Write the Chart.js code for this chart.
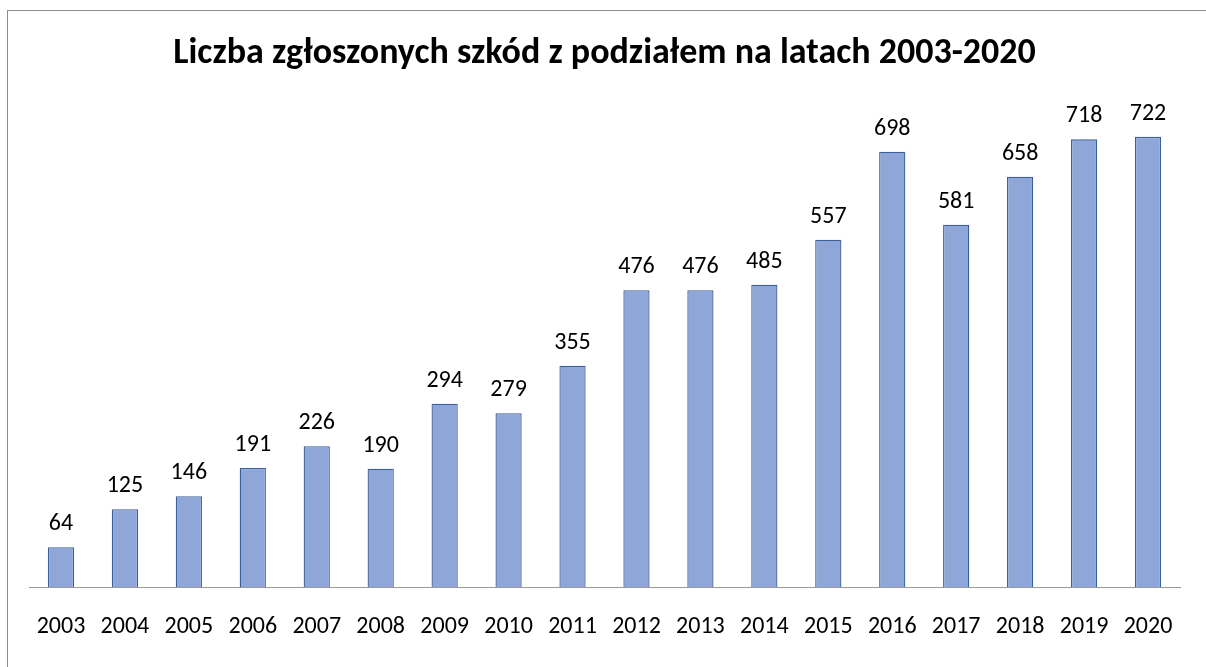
<!DOCTYPE html>
<html>
<head>
<meta charset="utf-8">
<script src="https://cdn.jsdelivr.net/npm/chart.js@4"></script>
<style>
  html, body { margin: 0; padding: 0; background: #fff; overflow: hidden; }
  #wrap { position: relative; width: 1206px; height: 667px; }
  #frame { position: absolute; left: 7px; top: 10px; width: 1300px; height: 800px; border: 1px solid #8c8c8c; }
  canvas { position: absolute; left: 0; top: 0; }
</style>
</head>
<body>
<div id="wrap">
  <div id="frame"></div>
  <canvas id="chart" width="1206" height="667"></canvas>
</div>
<script>
const years = ['2003', '2004', '2005', '2006', '2007', '2008', '2009', '2010', '2011',
               '2012', '2013', '2014', '2015', '2016', '2017', '2018', '2019', '2020'];
const claims = [64, 125, 146, 191, 226, 190, 294, 279, 355, 476, 476, 485, 557, 698, 581, 658, 718, 722];
const titleText = 'Liczba zgłoszonych szkód z podziałem na latach 2003-2020';

const fontFamily = "Carlito, Calibri, 'Open Sans', 'Noto Sans', sans-serif";

// value labels above each bar
const barLabels = {
    id: 'barLabels',
    afterDatasetsDraw(chart) {
        const ctx = chart.ctx;
        const meta = chart.getDatasetMeta(0);
        ctx.save();
        ctx.font = '24px ' + fontFamily;
        ctx.fillStyle = '#000';
        ctx.textAlign = 'center';
        ctx.textBaseline = 'bottom';
        meta.data.forEach(function (bar, i) {
            ctx.fillText(claims[i], bar.x, bar.y - 11);
        });
        ctx.restore();
    }
};

new Chart(document.getElementById('chart'), {
    type: 'bar',
    data: {
        labels: years,
        datasets: [{
            data: claims,
            backgroundColor: '#8ea6d8',
            borderColor: '#3b5f9a',
            borderWidth: 1.3,
            borderSkipped: 'start',
            barPercentage: 0.41,
            categoryPercentage: 1
        }]
    },
    options: {
        responsive: false,
        animation: false,
        layout: {
            padding: { left: 29, right: 26, top: 32, bottom: 9 }
        },
        plugins: {
            legend: { display: false },
            tooltip: { enabled: false },
            title: {
                display: true,
                text: titleText,
                color: '#000',
                font: { family: fontFamily, size: 36, weight: 'bold' },
                padding: { top: 0, bottom: 13 }
            }
        },
        scales: {
            y: {
                display: false,
                min: 0,
                max: 800
            },
            x: {
                grid: { display: false },
                border: { color: '#9a9a9a', width: 1 },
                ticks: {
                    color: '#000',
                    padding: 17,
                    maxRotation: 0,
                    font: { family: fontFamily, size: 24 }
                }
            }
        }
    },
    plugins: [barLabels]
});
</script>
</body>
</html>
